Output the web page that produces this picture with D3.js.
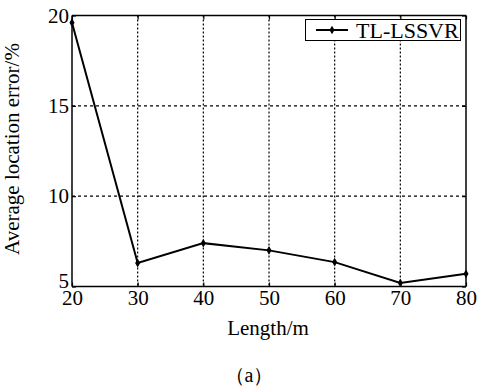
<!DOCTYPE html>
<html><head><meta charset="utf-8">
<script src="https://cdn.jsdelivr.net/npm/d3@7"></script>
<style>
body{margin:0;background:#fff;}
svg{display:block;}
text{font-family:"Liberation Serif","Times New Roman",serif;}
</style></head>
<body>
<svg id="chart" width="477" height="389"></svg>
<script>
const lengths = [20, 30, 40, 50, 60, 70, 80];
const errors = [19.6, 6.3, 7.4, 7.0, 6.35, 5.2, 5.7];
const xTicks = [20, 30, 40, 50, 60, 70, 80];
const yTicks = [5, 10, 15, 20];
const seriesName = "TL-LSSVR";
const xTitle = "Length/m";
const yTitle = "Average location error/%";
const caption = "（a）";

const SERIF = "Liberation Serif, Times New Roman, serif";
const svg = d3.select("#chart");
const m = {left: 72, right: 466, top: 15.5, bottom: 286.5};
const x = d3.scaleLinear().domain([20, 80]).range([m.left, m.right]);
const y = d3.scaleLinear().domain([5, 20]).range([m.bottom, m.top]);

// grid
svg.append("g").selectAll("line").data(xTicks.slice(1, -1)).join("line")
  .attr("x1", d => x(d)).attr("x2", d => x(d)).attr("y1", m.top).attr("y2", m.bottom)
  .attr("stroke", "#000").attr("stroke-width", 1.2).attr("stroke-dasharray", "2,2");
svg.append("g").selectAll("line").data(yTicks.slice(1, -1)).join("line")
  .attr("y1", d => y(d)).attr("y2", d => y(d)).attr("x1", m.left).attr("x2", m.right)
  .attr("stroke", "#000").attr("stroke-width", 1.2).attr("stroke-dasharray", "3,3");

// axes
const tickLen = 4;
const xb = svg.append("g").attr("transform", `translate(0,${m.bottom})`)
  .call(d3.axisBottom(x).tickValues(xTicks).tickSize(-tickLen).tickPadding(4).tickFormat(d3.format("d")));
const xt = svg.append("g").attr("transform", `translate(0,${m.top})`)
  .call(d3.axisTop(x).tickValues(xTicks).tickSize(-tickLen).tickFormat(""));
const yl = svg.append("g").attr("transform", `translate(${m.left},0)`)
  .call(d3.axisLeft(y).tickValues(yTicks).tickSize(-tickLen).tickPadding(3).tickFormat(d3.format("d")));
const yr = svg.append("g").attr("transform", `translate(${m.right},0)`)
  .call(d3.axisRight(y).tickValues(yTicks).tickSize(-tickLen).tickFormat(""));
[xb, xt, yl, yr].forEach(g => {
  g.attr("font-family", SERIF).attr("font-size", 21);
  g.selectAll("path").attr("stroke", "#000").attr("stroke-width", 1.5);
  g.selectAll("line").attr("stroke", "#000").attr("stroke-width", 1.2);
  g.selectAll("text").attr("fill", "#000");
});
xb.select(".domain").attr("d", `M${m.left},0H${m.right}`);
xt.select(".domain").attr("d", `M${m.left},0H${m.right}`);
yl.select(".domain").attr("d", `M0,${m.top}V${m.bottom}`);
yr.select(".domain").attr("d", `M0,${m.top}V${m.bottom}`);
xb.selectAll("text").attr("dy", "0.71em");
yl.selectAll("text").attr("dy", d => d === 5 ? "0.05em" : "0.32em");

// line
const line = d3.line().x((d, i) => x(lengths[i])).y(d => y(d));
svg.append("path").datum(errors).attr("d", line)
  .attr("fill", "none").attr("stroke", "#000").attr("stroke-width", 2);
svg.append("g").selectAll("path").data(errors).join("path")
  .attr("d", d3.symbol(d3.symbolDiamond, 22))
  .attr("transform", (d, i) => `translate(${x(lengths[i])},${y(d)})`)
  .attr("fill", "#000");

// legend
const lg = svg.append("g");
lg.append("rect").attr("x", 305.5).attr("y", 19.5).attr("width", 155).attr("height", 21)
  .attr("fill", "#fff").attr("stroke", "#000").attr("stroke-width", 1);
lg.append("line").attr("x1", 316).attr("x2", 348).attr("y1", 30).attr("y2", 30)
  .attr("stroke", "#000").attr("stroke-width", 2);
lg.append("path").attr("d", d3.symbol(d3.symbolDiamond, 22)).attr("transform", "translate(332,30)");
lg.append("text").attr("x", 356).attr("y", 37.5).text(seriesName)
  .attr("font-family", SERIF).attr("font-size", 22);

// titles
svg.append("text").attr("x", 268).attr("y", 335).attr("text-anchor", "middle")
  .attr("font-family", SERIF).attr("font-size", 21).text(xTitle);
svg.append("text").attr("transform", "translate(19,149) rotate(-90)").attr("text-anchor", "middle")
  .attr("font-family", SERIF).attr("font-size", 21).text(yTitle);
svg.append("text").attr("x", 249).attr("y", 382).attr("text-anchor", "middle")
  .attr("font-family", SERIF).attr("font-size", 20)
  .text(caption);
</script>
</body></html>
